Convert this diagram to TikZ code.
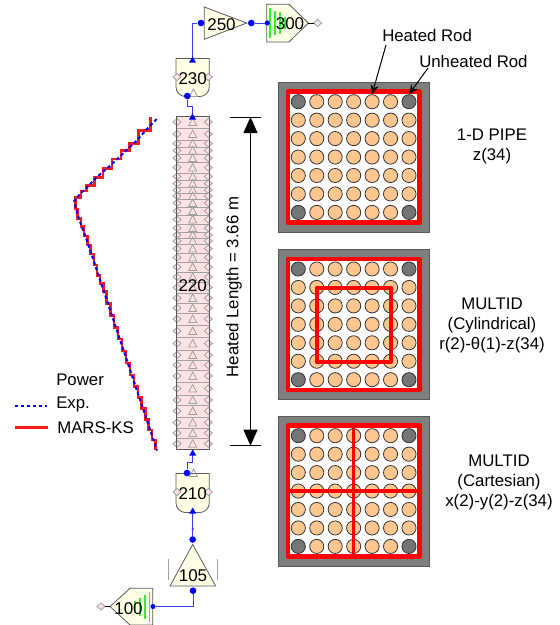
\documentclass[tikz,border=0pt]{standalone}
\usepackage{fontspec}
\setmainfont{Liberation Sans}
\usetikzlibrary{positioning,arrows.meta,calc}
\definecolor{ivory}{HTML}{FFFFE6}
\definecolor{pipepink}{HTML}{FDE3E3}
\definecolor{hydline}{HTML}{595959}
\definecolor{cellgrey}{HTML}{A0A0A0}
\definecolor{hydblue}{HTML}{0000FF}
\definecolor{linkblue}{HTML}{3A3AFF}
\definecolor{fillbar}{HTML}{33F033}
\definecolor{canbox}{HTML}{7F7F7F}
\definecolor{rodhot}{HTML}{FFC78F}
\definecolor{rodcold}{HTML}{757575}
\tikzset{
  hyd/.style={draw=hydline,fill=ivory,line width=0.6pt},
  num/.style={font=\fontsize{12.75}{14}\selectfont,inner sep=0pt},
  txt/.style={font=\fontsize{12.6}{15}\selectfont,inner sep=0pt,align=center},
  link/.style={draw=linkblue,line width=0.75pt},
  jbig/.style={circle,fill=hydblue,inner sep=0pt,minimum size=5pt},
  jsmall/.style={circle,fill=hydblue,inner sep=0pt,minimum size=3.8pt},
  jdot/.style={circle,fill=hydblue,inner sep=0pt,minimum size=1.8pt},
  cellmark/.style={draw=cellgrey,line width=0.6pt},
  rod/.style={circle,draw=black!80,line width=0.6pt,inner sep=0pt,minimum size=10.6pt},
  assy/.style={draw=red,line width=3.2pt,line join=round},
  dim/.style={-{Triangle[length=12pt,width=10.5pt]},line width=0.6pt},
  point/.style={-{Stealth[length=7pt,width=6pt]},line width=0.75pt},
  flowtip/.style={fill=hydblue},
  meas/.style={hydblue,line width=1.5pt,dash pattern=on 2.6pt off 1.9pt},
  calc/.style={red,line width=2pt,opacity=0.9},
  gbar/.style={fillbar,line width=1pt},
}
\newcommand{\sidemark}[2]{\draw[cellmark,fill=pipepink] ({#1-4},{#2}) -- ({#1},{#2-3.5}) -- ({#1+4},{#2}) -- ({#1},{#2+3.5}) -- cycle;}
\newcommand{\upmark}[2]{\draw[cellmark] ({#1-4},{#2+3.5}) -- ({#1},{#2-4}) -- ({#1+4},{#2+3.5}) -- cycle;}
\newcommand{\uptip}[2]{\fill[flowtip] (#1-3.5,#2) -- (#1,#2-6) -- (#1+3.5,#2) -- cycle;}
\newcommand{\rodpanel}[2]{
  \fill[canbox] (278.5,#2) rectangle (429,#2+150.5);
  \draw[hydline,line width=0.5pt] (278.5,#2) rectangle (429,#2+150.5);
  \fill[white] (288,#2+9.5) rectangle (419.5,#2+140.5);
  \foreach \i in {1,...,7}
    \foreach \j in {1,...,7} {
      \pgfmathtruncatemacro\iscorner{(\i==1||\i==7)&&(\j==1||\j==7)}
      \ifnum\iscorner=1 \def\rodcol{rodcold}\else\def\rodcol{rodhot}\fi
      \node[rod,fill=\rodcol] (#1-\i-\j) at ({298.3+18.45*(\i-1)},{#2+19.7+18.45*(\j-1)}) {};
    }
  \draw[assy] (288,#2+9.5) rectangle (419.5,#2+140.5);
}
\begin{document}
\begin{tikzpicture}[x=0.75pt,y=-0.75pt]
\useasboundingbox (0,0) rectangle (560,625);
% test section
\draw[hyd,fill=pipepink] (176,116) rectangle (209.3,449.5);
\foreach \ya/\yb in {116/128,128/140,140/147,147/154,154/162,162/173,173/180,180/187,187/193,193/199,199/207,207/215,215/224,224/232,232/238,238/244,244/253,253/262,262/272,272/282,282/293,293/303,303/313,313/325,325/337,337/350,350/360,360/370,370/382,382/395,395/405,405/417,417/428,428/438,438/449.5} {
  \draw[cellmark] (176,\yb) -- (209.3,\yb);
  \sidemark{177}{(\ya+\yb)/2}
  \sidemark{208.3}{(\ya+\yb)/2}
  \upmark{192.7}{(\ya+\yb)/2}
}
\draw[draw=hydline,line width=0.6pt] (176,116) rectangle (209.3,449.5);
\node[num] (c220) at (192.7,285.5) {220};
% upper plenum and outlet
\draw[hyd] (176,58.5) -- (209.3,58.5) -- (209.3,87) arc (0:90:9.5) -- (185.5,96.5) arc (90:180:9.5) -- cycle;
\sidemark{177}{77}
\sidemark{208.3}{77}
\upmark{193.5}{93}
\node[num] (c230) at (192.7,79) {230};
\draw[hyd] (204.3,7) -- (246.7,23) -- (204.3,39.3) -- cycle;
\node[num] (c250) at (221.5,25) {250};
\draw[hyd] (266.7,4.3) -- (289,4.3) -- (308.3,23) -- (289,42) -- (266.7,42) -- cycle;
\foreach \gx/\gh in {270/15,275/12,280/11,285/6}
  \draw[gbar] (\gx,23-\gh) -- (\gx,23+\gh);
\node[num] (c300) at (290,24) {300};
\sidemark{317.5}{23}
\draw[line width=0.75pt] (308.3,23) -- (313.5,23);
% lower plenum and inlet
\draw[hyd] (176,473.5) -- (209.3,473.5) -- (209.3,503) arc (0:90:9.5) -- (185.5,512.5) arc (90:180:9.5) -- cycle;
\sidemark{177}{492}
\sidemark{208.3}{492}
\upmark{193.5}{473}
\node[num] (c210) at (192.7,494) {210};
\draw[hyd] (192.7,544.5) -- (215.7,586) -- (170,586) -- cycle;
\draw[cellgrey,line width=0.5pt] (168,559) -- (168,580) (217.7,559) -- (217.7,580);
\node[num] (c105) at (193,576) {105};
\draw[hyd] (152.7,588.3) -- (130,588.3) -- (110,606.5) -- (130,625) -- (152.7,625) -- cycle;
\foreach \gx/\gh in {149.3/15,145/12,140/9,135/6}
  \draw[gbar] (\gx,606.5-\gh) -- (\gx,606.5+\gh);
\node[num] (c100) at (128.5,609) {100};
\sidemark{101}{606.5}
\draw[line width=0.75pt] (110,606.5) -- (105,606.5);
% junctions
\node[jsmall] (j100) at (153,606.5) {};
\node[jbig] (j105b) at (193,590.7) {};
\node[jbig] (j105t) at (192.7,539.5) {};
\node[jdot] (jmid) at (192.7,529) {};
\node[jbig] (j210t) at (187,473) {};
\node[jbig] (j230b) at (187.3,96) {};
\node[jbig] (j250l) at (201,23) {};
\node[jbig] (j250r) at (251.3,23) {};
\node[jsmall] (j300) at (267.3,23) {};
\coordinate (t230) at (192.5,58.5);
\coordinate (t220b) at (192.7,450);
\coordinate (t220t) at (192.5,116);
\coordinate (t210b) at (192.7,512.5);
\draw[link] (j100) -| (j105b);
\draw[link] (j105t) -- (t210b);
\draw[link] (j210t) |- (192.7,462) -- (t220b);
\draw[link] (j230b) |- (192.5,106) -- (t220t);
\draw[link] (t230) |- (j250l);
\draw[link] (j250r) -- (j300);
\uptip{192.5}{119.5}
\uptip{192.7}{455.5}
\uptip{192.7}{513.5}
\uptip{192.5}{62.5}
% power profile
\draw[calc] (150.7,117) |- (138.7,130.7) |- (129.3,143.3) |- (121,150.7) |- (112,159) |- (103,168.3) |- (94.3,177.7) |- (86.7,185.7) |- (81,191) |- (75.7,197.7) |- (77.7,209) |- (81,218.3) |- (84,226.7) |- (87.3,236) |- (90.7,245) |- (94,254) |- (97,265) |- (100,275.7) |- (103.3,283.3) |- (106.7,291.7) |- (110.3,303.3) |- (114,315.3) |- (118,327.3) |- (122,339) |- (126,351) |- (130,363) |- (134,375) |- (138,386.7) |- (141.7,397.3) |- (145.3,408.3) |- (148.7,419.3) |- (152,430) |- (155.3,440) -- (155.3,450);
\draw[meas] (156.7,119) -- (146,130) -- (136.7,140.7) -- (127.7,149) -- (117.3,159) -- (108.3,167.3) -- (97.3,176.7) -- (88.3,186) -- (80.7,193.3) -- (74.3,200.7) -- (76,209) -- (80,221.7) -- (84.3,233.3) -- (87.3,241.7) -- (157,450.5);
% rod bundles
\rodpanel{pa}{82}
\rodpanel{pb}{249.3}
\rodpanel{pc}{416}
\draw[assy] (316.7,287.7) rectangle (390.7,361.7);
\draw[assy,line width=2.4pt] (353.3,424.5) -- (353.3,557) (288,491) -- (419.5,491);
% length bar
\coordinate (dimt) at (250.5,117);
\coordinate (dimb) at (250.5,445.7);
\draw[line width=0.75pt] (230,117) -- (261,117) (230,445.7) -- (261,445.7);
\draw[dim] (250.5,285) -- (dimt);
\draw[dim] (250.5,285) -- (dimb);
\node[txt,rotate=90] (hlen) at (234,287) {Heated Length = 3.66 m};
% labels
\node[txt,anchor=west] (lrod) at (382,35.5) {Heated Rod};
\node[txt,anchor=west] (lun) at (419,61.5) {Unheated Rod};
\coordinate (lrodf) at (386,45);
\coordinate (lunf) at (428,68);
\draw[point] (lrodf) -- (pa-5-1.north);
\draw[point] (lunf) -- (pa-7-1.north);
\node[txt] (lpipe) at (492,146.5) {1-D PIPE\\z(34)};
\node[txt] (lcyl) at (492,325) {MULTID\\(Cylindrical)\\r(2)-θ(1)-z(34)};
\node[txt] (lcar) at (499,482.5) {MULTID\\(Cartesian)\\x(2)-y(2)-z(34)};
% legend
\node[txt,anchor=west] (lpow) at (56,380) {Power};
\node[txt,anchor=west] (lexp) at (56,404.5) {Exp.};
\node[txt,anchor=west] (lmars) at (57,427.5) {MARS-KS};
\coordinate (kexp) at (15,405.7);
\coordinate (kmars) at (15,427.7);
\draw[meas] (kexp) -- ++(32,0);
\draw[calc] (kmars) -- ++(33,0);
\end{tikzpicture}
\end{document}
